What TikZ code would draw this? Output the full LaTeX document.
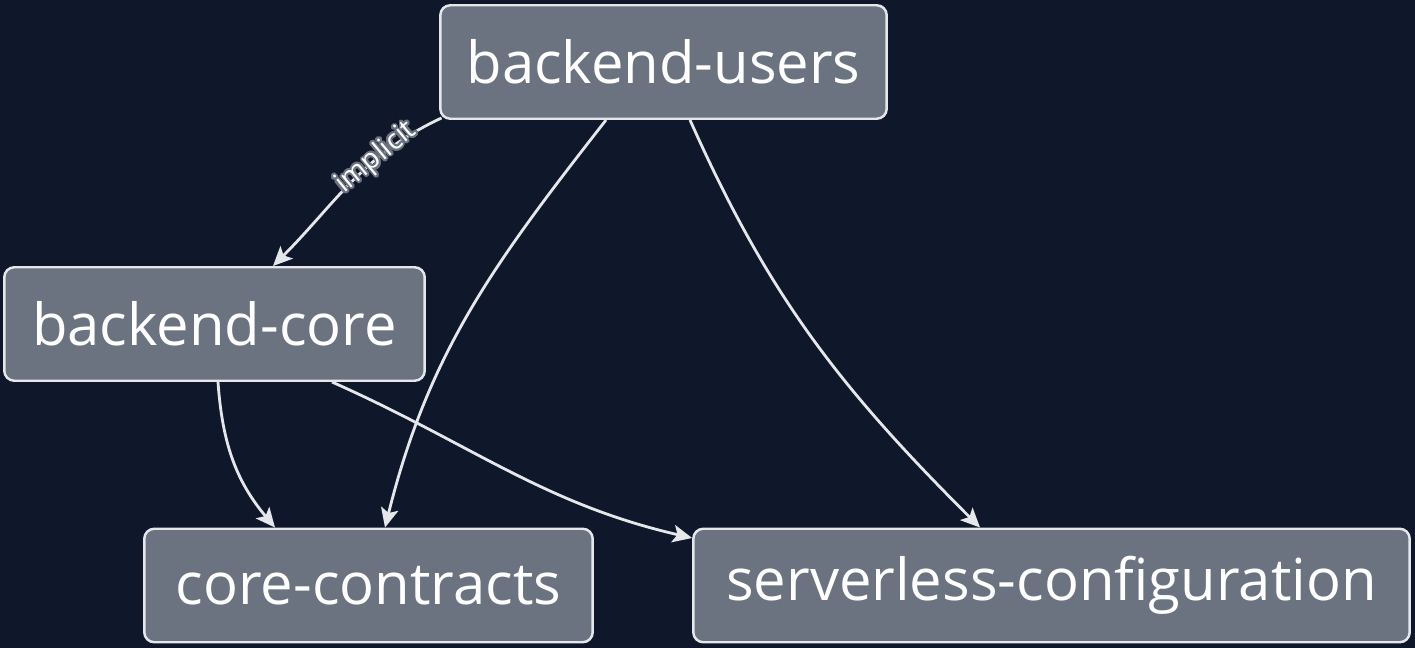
\documentclass[tikz,border=0pt]{standalone}
\usepackage{fontspec}
\setmainfont{Open Sans}
\usepackage{contour}
\usetikzlibrary{arrows.meta, positioning}

\definecolor{bgnavy}{HTML}{0F172A}
\definecolor{boxgray}{HTML}{6B7280}
\definecolor{edgewhite}{HTML}{E5E7EB}
\contourlength{1.1pt}

\begin{document}
\begin{tikzpicture}[
  x=0.02cm, y=-0.02cm,
  pkgbox/.style={rectangle, draw=edgewhite, fill=boxgray, line width=1.4pt,
    rounded corners=0.2cm, minimum height=2.27cm, inner sep=0pt,
    text=white, font=\fontsize{33}{40}\selectfont},
  arr/.style={-{Stealth[length=11pt, width=10pt, inset=2.5pt]}, draw=edgewhite,
    line width=1.6pt},
  tag/.style={sloped, font=\fontsize{16}{19}\selectfont, text=white, inner sep=0pt}
]
  \fill[bgnavy] (0,0) rectangle (1415,648);
  \useasboundingbox (0,0) rectangle (1415,648);

  \node[pkgbox, minimum width=8.93cm]  (users)    at (663.5, 62)   {backend-users};
  \node[pkgbox, minimum width=8.41cm]  (core)     at (214.5, 324)  {backend-core};
  \node[pkgbox, minimum width=8.97cm]  (contract) at (368.5, 585.5) {core-contracts};
  \node[pkgbox, minimum width=14.33cm] (srvconf)  at (1051.5, 585.5) {serverless-configuration};

  \draw[arr] ([xshift=0.05cm, yshift=0.04cm]users.south west) to[out=205, in=45]
    node[tag, pos=0.33] {\contour{boxgray}{implicit}} ([xshift=1.17cm]core.north);
  \draw[arr] ([xshift=-1.15cm]users.south) to[out=232, in=76] ([xshift=0.33cm]contract.north);
  \draw[arr] ([xshift=0.53cm]users.south) to[out=-66, in=135] ([xshift=-1.43cm]srvconf.north);
  \draw[arr] ([xshift=0.07cm]core.south) to[out=-86, in=130] ([xshift=-1.87cm]contract.north);
  \draw[arr] ([xshift=2.35cm]core.south) to[out=-24, in=167] ([yshift=0.95cm]srvconf.west);
\end{tikzpicture}
\end{document}
